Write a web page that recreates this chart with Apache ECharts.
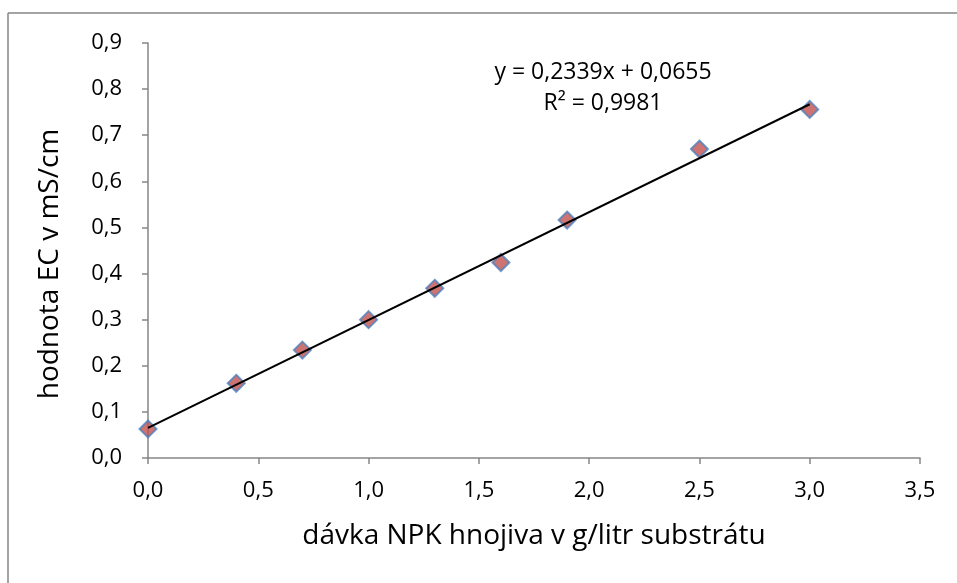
<!DOCTYPE html>
<html><head><meta charset="utf-8">
<script src="https://cdn.jsdelivr.net/npm/echarts@6/dist/echarts.min.js"></script>
<style>html,body{margin:0;padding:0;background:#fff}#c{width:957px;height:583px}</style>
</head><body><div id="c"></div>
<script>
const xValues = [0, 0.4, 0.7, 1.0, 1.3, 1.6, 1.9, 2.5, 3.0];
const yValues = [0.063, 0.162, 0.234, 0.300, 0.368, 0.424, 0.516, 0.670, 0.756];
const trendSlope = 0.2339;
const trendIntercept = 0.0655;
const trendRange = [0, 3.0];
const equationLines = ['y = 0,2339x + 0,0655', 'R² = 0,9981'];
const xTitle = 'dávka NPK hnojiva v g/litr substrátu';
const yTitle = 'hodnota EC v mS/cm';

const FONT = '"Open Sans", sans-serif';
const fmt = v => v.toFixed(1).replace('.', ',');
const chart = echarts.init(document.getElementById('c'), null, {renderer: 'canvas'});
const axisCommon = {
  axisLine: {show: true, onZero: false, lineStyle: {color: '#868686', width: 1.5}},
  axisTick: {show: true, inside: false, length: 6, lineStyle: {color: '#868686', width: 1.5}},
  splitLine: {show: false},
  axisLabel: {color: '#000', fontFamily: FONT, fontSize: 22, formatter: fmt},
  nameTextStyle: {color: '#000', fontFamily: FONT, fontSize: 28}
};
chart.setOption({
  animation: false,
  grid: {left: 148, right: 37, top: 43, bottom: 125},
  xAxis: Object.assign({}, axisCommon, {
    type: 'value', min: 0, max: 3.5, interval: 0.5,
    name: xTitle, nameLocation: 'middle', nameGap: 64,
    axisLabel: Object.assign({}, axisCommon.axisLabel, {margin: 22})
  }),
  yAxis: Object.assign({}, axisCommon, {
    type: 'value', min: 0, max: 0.9, interval: 0.1,
    axisLabel: Object.assign({}, axisCommon.axisLabel, {margin: 26})
  }),
  graphic: [
    {type: 'line', shape: {x1: 8, y1: 13, x2: 8, y2: 600}, style: {stroke: '#868686', lineWidth: 1.5}},
    {type: 'line', shape: {x1: 8, y1: 13, x2: 1000, y2: 13}, style: {stroke: '#868686', lineWidth: 1.5}},
    {type: 'text', x: 50, y: 264, rotation: Math.PI / 2, style: {text: yTitle, fill: '#000', font: '28px ' + FONT, align: 'center', verticalAlign: 'middle'}},
    {type: 'text', x: 603, y: 72, style: {text: equationLines[0], fill: '#000', font: '23px ' + FONT, align: 'center', verticalAlign: 'middle'}},
    {type: 'text', x: 603, y: 103, style: {text: equationLines[1], fill: '#000', font: '23px ' + FONT, align: 'center', verticalAlign: 'middle'}}
  ],
  series: [
    {
      type: 'line', data: trendRange.map(x => [x, trendSlope * x + trendIntercept]),
      symbol: 'none', lineStyle: {color: '#000', width: 2}, z: 3
    },
    {
      type: 'scatter', data: xValues.map((x, i) => [x, yValues[i]]),
      symbol: 'diamond', symbolSize: [17, 17],
      itemStyle: {color: '#C0504D', borderColor: '#4F81BD', borderWidth: 2}, z: 2
    }
  ]
});
</script></body></html>
